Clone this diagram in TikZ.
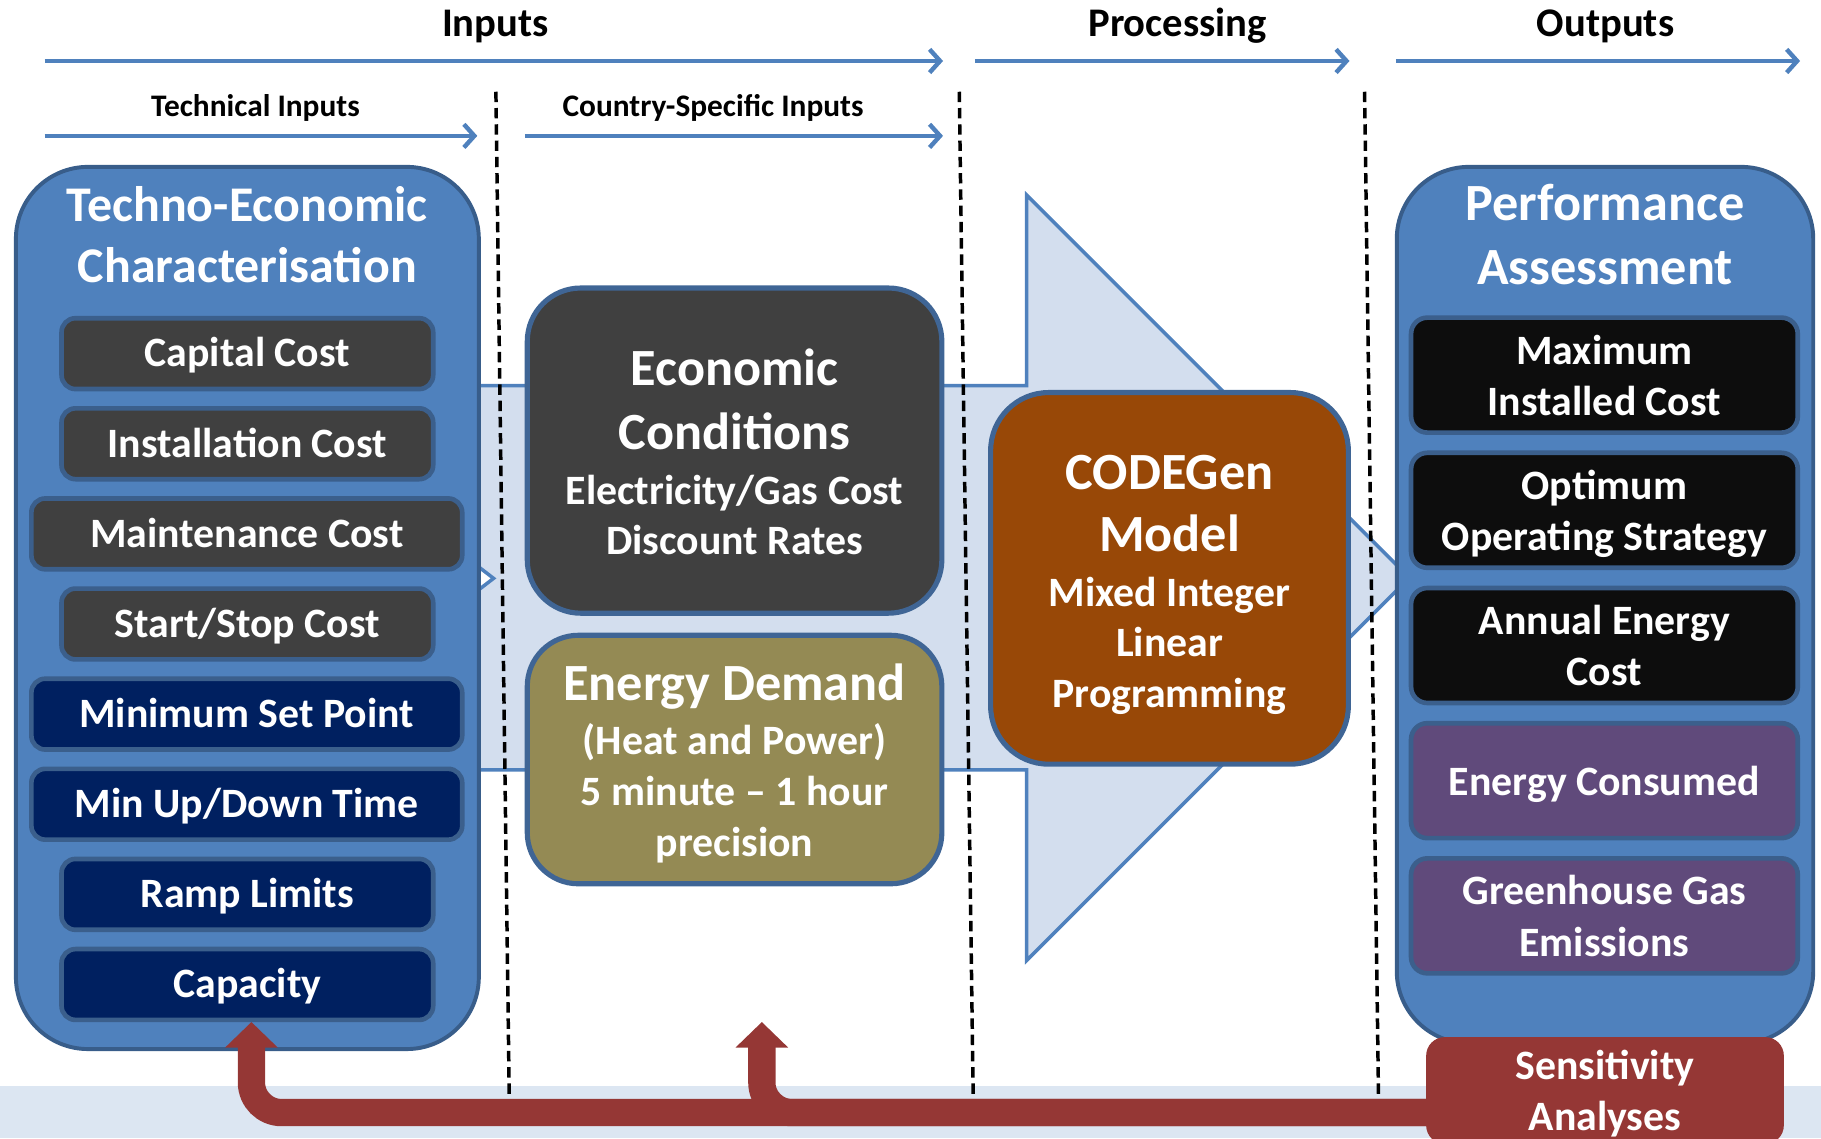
\documentclass[tikz,border=0pt]{standalone}
\usepackage{fontspec}
\setmainfont{Carlito}
\usetikzlibrary{arrows.meta}
\definecolor{pblue}{RGB}{79,129,189}
\definecolor{pborder}{RGB}{56,93,138}
\definecolor{iborder}{RGB}{59,95,140}
\definecolor{mborder}{RGB}{63,101,149}
\definecolor{dgray}{RGB}{64,64,64}
\definecolor{navy}{RGB}{0,32,96}
\definecolor{blackbox}{RGB}{13,13,13}
\definecolor{purp}{RGB}{96,74,123}
\definecolor{olive}{RGB}{148,138,84}
\definecolor{brown}{RGB}{152,72,7}
\definecolor{fbred}{RGB}{149,55,53}
\definecolor{afill}{RGB}{211,222,238}
\definecolor{bandc}{RGB}{220,230,242}
\newcommand\myfs[2]{\fontsize{#1}{#2}\selectfont\bfseries}
\begin{document}
\begin{tikzpicture}[x=1pt,y=-1pt,
  tarrow/.style={draw=pblue, line width=3.8pt, -{Straight Barb[length=9pt,width=20pt]}},
  toplabel/.style={font=\myfs{35}{42}, text height=22pt, text depth=0pt, inner sep=0pt},
  sublabel/.style={font=\myfs{27}{33}, text height=17pt, text depth=0pt, inner sep=0pt},
  divider/.style={draw=black, line width=3pt, dash pattern=on 9pt off 5pt},
  panel/.style={draw=pborder, fill=pblue, line width=3.4pt, rounded corners=62pt, inner sep=0pt},
  item/.style={draw=iborder, line width=4pt, rounded corners=12pt, text=white,
    font=\myfs{36}{44}, align=center, inner sep=0pt},
  narrow/.style={item, minimum width=320pt, minimum height=61pt, text height=23pt, text depth=0pt},
  wide/.style={item, minimum width=371pt, minimum height=61pt, text height=23pt, text depth=0pt},
  outitem/.style={item, minimum width=333pt, minimum height=99pt, rounded corners=14pt, text depth=0pt},
  midbox/.style={draw=mborder, line width=4.4pt, rounded corners=46pt, inner sep=0pt},
  big/.style={text=white, font=\myfs{45}{55}, text height=28.4pt, text depth=0pt, inner sep=0pt},
  small/.style={text=white, font=\myfs{36}{44}, text height=22.7pt, text depth=0pt, inner sep=0pt},
  title/.style={text=white, inner sep=0pt, text depth=0pt},
  fb/.style={draw=fbred, line width=23.5pt, rounded corners=26pt, -{Triangle[length=22pt,width=44pt]}}
]
\useasboundingbox (0,0) rectangle (1568,980);
% bottom band
\fill[bandc] (0,935) rectangle (1568,980);
% big process arrow
\draw[fill=afill, draw=pblue, line width=3pt, line join=miter]
  (300,332) -- (884,332) -- (884,168) -- (1213.5,497.5) -- (884,827) -- (884,663) -- (300,663) -- cycle;
\draw[fill=white, draw=pblue, line width=3pt] (412,488) -- (425,498) -- (412,508);
% top arrows
\coordinate (inS) at (38.5,52.5);  \coordinate (inE) at (812,52.5);
\coordinate (prS) at (839.5,52.5); \coordinate (prE) at (1162,52.5);
\coordinate (ouS) at (1202,52.5);  \coordinate (ouE) at (1550,52.5);
\coordinate (teS) at (38.5,117);   \coordinate (teE) at (411,117);
\coordinate (coS) at (452,117);    \coordinate (coE) at (812,117);
\draw[tarrow] (inS) -- (inE);
\draw[tarrow] (prS) -- (prE);
\draw[tarrow] (ouS) -- (ouE);
\draw[tarrow] (teS) -- (teE);
\draw[tarrow] (coS) -- (coE);
\node[toplabel] (lInputs) at (426.5,20.5) {Inputs};
\node[toplabel] (lProc) at (1014,20.5) {Processing};
\node[toplabel] (lOut) at (1382.5,20.5) {Outputs};
\node[sublabel] (lTech) at (220,91.5) {Technical Inputs};
\node[sublabel] (lCountry) at (614,91.5) {Country-Specific Inputs};
% dividers
\draw[divider] (427,79) -- (438.5,945);
\draw[divider] (826,79) -- (838,945);
\draw[divider] (1175,79) -- (1187,945);
% left panel
\node[panel, minimum width=398.6pt, minimum height=759.6pt] (tech) at (213,523.5) {};
\node[title, font=\myfs{43}{52}, text height=27pt] (techT1) at (213,177) {Techno-Economic};
\node[title, font=\myfs{43}{52}, text height=27pt] (techT2) at (213,229.5) {Characterisation};
\node[narrow, fill=dgray] (cap) at (213,304.5) {Capital Cost};
\node[narrow, fill=dgray] (inst) at (213,382.1) {Installation Cost};
\node[wide, fill=dgray] (maint) at (212.5,459.7) {Maintenance Cost};
\node[narrow, fill=dgray] (ss) at (213,537.3) {Start/Stop Cost};
\node[wide, fill=navy] (msp) at (212.5,614.9) {Minimum Set Point};
\node[wide, fill=navy] (mud) at (212.5,692.5) {Min Up/Down Time};
\node[narrow, fill=navy] (ramp) at (213,770.1) {Ramp Limits};
\node[narrow, fill=navy] (capac) at (213,847.7) {Capacity};
% middle boxes
\node[midbox, fill=dgray, minimum width=357pt, minimum height=280pt] (econ) at (632.5,388) {};
\node[big] (econ1) at (632.5,318) {Economic};
\node[big] (econ2) at (632.5,373) {Conditions};
\node[small] (econ3) at (632.5,423) {Electricity/Gas Cost};
\node[small] (econ4) at (632.5,466) {Discount Rates};
\node[midbox, fill=olive, minimum width=357pt, minimum height=214pt, rounded corners=44pt] (dem) at (632.5,654) {};
\node[big] (dem1) at (632.5,589) {Energy Demand};
\node[small] (dem2) at (632.5,638) {(Heat and Power)};
\node[small] (dem3) at (632.5,682) {5 minute – 1 hour};
\node[small] (dem4) at (632.5,726) {precision};
\node[midbox, fill=brown, minimum width=308pt, minimum height=320pt, rounded corners=50pt] (codegen) at (1007,498) {};
\node[big] (cg1) at (1007,407) {CODEGen};
\node[big] (cg2) at (1007,461) {Model};
\node[small] (cg3) at (1007,511) {Mixed Integer};
\node[small] (cg4) at (1007,554) {Linear};
\node[small] (cg5) at (1007,598) {Programming};
% right panel
\node[panel, minimum width=358.6pt, minimum height=754.6pt] (perf) at (1382,521) {};
\node[title, font=\myfs{45}{55}, text height=28.4pt] (perfT1) at (1382,175.5) {Performance};
\node[title, font=\myfs{45}{55}, text height=28.4pt] (perfT2) at (1382,230.5) {Assessment};
\node[outitem, fill=blackbox] (maxc) at (1381.5,323) {Maximum\\Installed Cost};
\node[outitem, fill=blackbox] (opt) at (1381.5,439.4) {Optimum\\Operating Strategy};
\node[outitem, fill=blackbox] (aec) at (1381.5,555.8) {Annual Energy\\Cost};
\node[outitem, fill=purp] (ec) at (1381.5,672.2) {Energy Consumed};
\node[outitem, fill=purp] (ghg) at (1381.5,788.6) {Greenhouse Gas\\Emissions};
% feedback arrows
\coordinate (sb) at (1260,958);
\coordinate (fbL) at (216.5,880);
\coordinate (fbM) at (656,880);
\draw[fb] (sb) -- (sb -| fbM) -- (fbM);
\draw[fb] (sb) -- (sb -| fbL) -- (fbL);
\node[fill=fbred, rounded corners=16pt, minimum width=308pt, minimum height=92pt, inner sep=0pt,
  text=white, font=\myfs{36}{44}, align=center, text depth=0pt] (sens) at (1382,939) {Sensitivity\\Analyses};
\end{tikzpicture}
\end{document}
